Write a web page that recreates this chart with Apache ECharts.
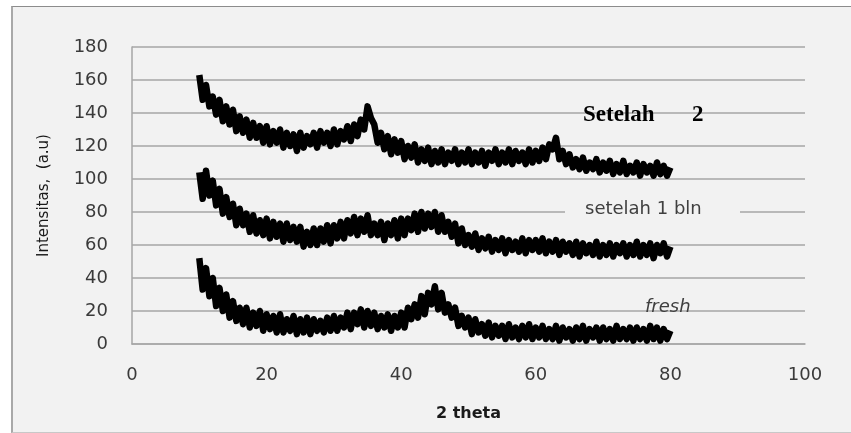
<!DOCTYPE html>
<html>
<head>
<meta charset="utf-8">
<script src="https://cdn.jsdelivr.net/npm/echarts@6/dist/echarts.min.js"></script>
<style>
html,body{margin:0;padding:0;background:#fff;}
#wrap{position:relative;width:851px;height:433px;overflow:hidden;background:#fff;}
#frame{position:absolute;left:11px;top:6px;width:860px;height:425px;background:#f2f2f2;border-left:2px solid #a9a9a9;border-top:1px solid #8c8c8c;border-bottom:1px solid #c8c8c8;}
#chart{position:absolute;left:0;top:0;width:851px;height:433px;}
</style>
</head>
<body>
<div id="wrap"><div id="frame"></div><div id="chart"></div></div>
<script>
// 2 theta sampling (degrees)
const theta = [
10,10.5,11,11.5,12,12.5,13,13.5,14,14.5,
15,15.5,16,16.5,17,17.5,18,18.5,19,19.5,
20,20.5,21,21.5,22,22.5,23,23.5,24,24.5,
25,25.5,26,26.5,27,27.5,28,28.5,29,29.5,
30,30.5,31,31.5,32,32.5,33,33.5,34,34.5,
35,35.5,36,36.5,37,37.5,38,38.5,39,39.5,
40,40.5,41,41.5,42,42.5,43,43.5,44,44.5,
45,45.5,46,46.5,47,47.5,48,48.5,49,49.5,
50,50.5,51,51.5,52,52.5,53,53.5,54,54.5,
55,55.5,56,56.5,57,57.5,58,58.5,59,59.5,
60,60.5,61,61.5,62,62.5,63,63.5,64,64.5,
65,65.5,66,66.5,67,67.5,68,68.5,69,69.5,
70,70.5,71,71.5,72,72.5,73,73.5,74,74.5,
75,75.5,76,76.5,77,77.5,78,78.5,79,79.5,
80];
// Setelah 2 bulan
const setelah2 = [
163,148,157,144,150,139,148,135,144,133,
142,129,138,128,136,125,134,125,132,122,
132,121,129,122,130,119,128,120,127,117,
128,119,126,121,128,119,129,122,128,120,
130,121,129,124,132,123,133,126,136,130,
144,137,133,122,128,118,126,115,124,116,
123,112,120,113,121,110,118,111,119,109,
117,110,118,109,116,111,118,109,116,110,
118,109,116,110,117,108,116,111,118,109,
116,110,118,109,117,111,116,109,118,110,
117,111,119,112,121,118,125,112,117,109,
115,107,112,106,113,105,110,106,112,104,
110,105,111,103,109,104,111,103,108,104,
110,102,109,104,108,102,110,103,108,102,
107];
// setelah 1 bln
const setelah1 = [
104,88,105,90,99,84,94,79,89,77,
85,72,82,72,79,68,78,67,75,66,
76,64,74,65,73,62,73,63,71,62,
71,59,68,60,70,60,70,62,72,61,
72,64,74,64,75,67,77,66,76,68,
78,66,73,66,74,63,73,66,75,64,
76,66,76,69,79,68,80,70,79,71,
80,68,78,68,74,65,73,61,70,60,
66,59,67,57,64,58,65,56,63,57,
64,55,63,57,62,56,64,55,63,57,
63,56,64,55,62,56,63,54,62,56,
61,54,62,53,61,55,60,54,62,53,
60,54,61,53,60,55,61,53,60,54,
62,53,60,54,61,52,60,55,61,53,
59];
// fresh
const fresh = [
52,33,46,29,40,23,34,20,30,16,
26,14,22,12,22,10,19,11,20,8,
18,9,17,7,18,7,15,8,17,6,
15,7,16,6,15,8,14,7,16,8,
17,8,16,10,19,9,19,12,21,10,
20,11,19,9,17,10,18,8,17,10,
19,10,22,15,24,16,29,18,31,24,
35,21,31,19,24,16,22,11,17,10,
16,6,15,7,12,5,13,4,11,5,
11,3,12,4,10,3,11,4,12,3,
10,4,11,3,9,3,11,2,10,4,
9,2,10,3,11,2,9,4,10,2,
10,3,9,2,11,3,9,3,10,2,
10,3,9,2,11,3,10,2,9,3,
8];
const seriesNames = ['Setelah 2', 'setelah 1 bln', 'fresh'];
const seriesValues = [setelah2, setelah1, fresh];

const chart = echarts.init(document.getElementById('chart'), null, {renderer:'canvas'});
const axisFont = {fontFamily:'DejaVu Sans', fontSize:18, color:'#3a3a3a'};
chart.setOption({
  backgroundColor:'transparent',
  animation:false,
  grid:{left:132, right:46, top:47, bottom:89},
  xAxis:{
    type:'value', min:0, max:100, interval:20,
    name:'2 theta', nameLocation:'middle', nameGap:62,
    nameTextStyle:{fontFamily:'DejaVu Sans', fontSize:16, fontWeight:'bold', color:'#1a1a1a'},
    axisLine:{show:true, lineStyle:{color:'#a6a6a6', width:1.5}},
    axisTick:{show:false},
    splitLine:{show:false},
    axisLabel:Object.assign({margin:22}, axisFont)
  },
  yAxis:{
    type:'value', min:0, max:180, interval:20,
    name:'Intensitas,  (a.u)', nameLocation:'middle', nameGap:80, nameRotate:90,
    nameTextStyle:{fontFamily:'DejaVu Sans', fontSize:15, color:'#1a1a1a'},
    axisLine:{show:true, lineStyle:{color:'#a6a6a6', width:1.5}},
    axisTick:{show:false},
    splitLine:{show:true, lineStyle:{color:'#a6a6a6', width:1.5}},
    axisLabel:Object.assign({margin:24}, axisFont)
  },
  series: seriesValues.map((vals, k) => ({
    name: seriesNames[k],
    type:'line',
    symbol:'none',
    smooth:false,
    lineStyle:{color:'#000', width:6.5, join:'round'},
    data: theta.map((t, i) => [t, vals[i]])
  })),
  graphic:[
    {type:'rect', z:50, shape:{x:565, y:199, width:175, height:24}, style:{fill:'#f2f2f2'}},
    {type:'text', z:51, x:583, y:115, style:{text:'Setelah', font:'bold 23px "Liberation Serif"', fill:'#000', textVerticalAlign:'middle'}},
    {type:'text', z:51, x:692, y:115, style:{text:'2', font:'bold 23px "Liberation Serif"', fill:'#000', textVerticalAlign:'middle'}},
    {type:'text', z:51, x:585, y:209, style:{text:'setelah 1 bln', font:'18px "DejaVu Sans"', fill:'#404040', textVerticalAlign:'middle'}},
    {type:'text', z:51, x:645, y:307, style:{text:'fresh', font:'italic 18px "DejaVu Sans"', fill:'#404040', textVerticalAlign:'middle'}}
  ]
});
</script>
</body>
</html>
